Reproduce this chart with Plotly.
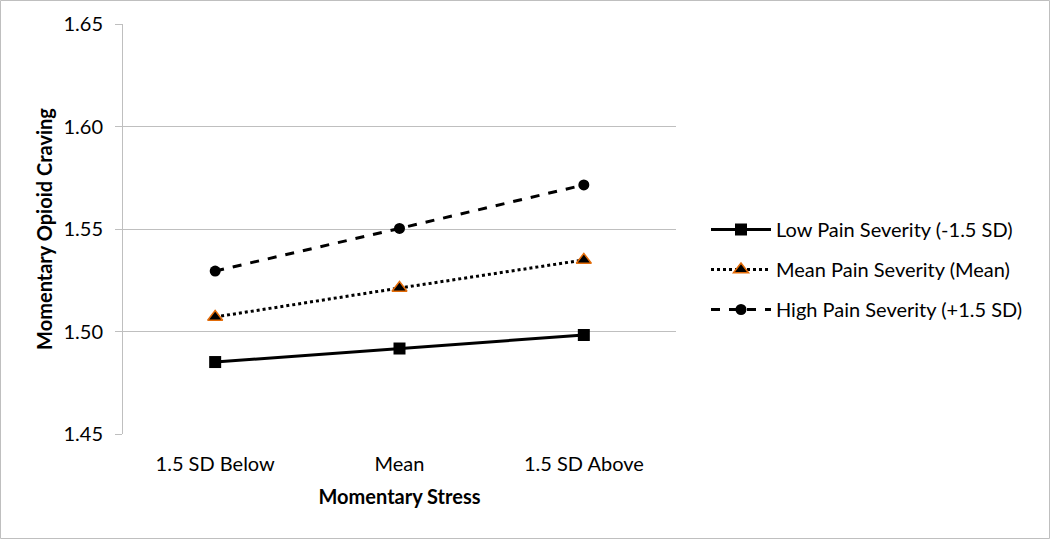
import plotly.graph_objects as go

categories = ["1.5 SD Below", "Mean", "1.5 SD Above"]
low_pain = [1.4851, 1.4917, 1.4983]
mean_pain = [1.5071, 1.5212, 1.5349]
high_pain = [1.5295, 1.5503, 1.5715]
series_names = ["Low Pain Severity (-1.5 SD)", "Mean Pain Severity (Mean)", "High Pain Severity (+1.5 SD)"]
y_ticks = [1.45, 1.50, 1.55, 1.60, 1.65]
y_tick_labels = ["1.45", "1.50", "1.55", "1.60", "1.65"]

FONT = "Lato, 'Open Sans', sans-serif"
fig = go.Figure()
fig.add_trace(go.Scatter(x=categories, y=low_pain, name=series_names[0], mode="lines+markers",
                         line=dict(color="black", width=3, dash="solid"),
                         marker=dict(symbol="square", size=12, color="black"), legendgroup="a"))
fig.add_trace(go.Scatter(x=categories, y=mean_pain, name=series_names[1], mode="lines+markers",
                         line=dict(color="black", width=3, dash="dot"),
                         marker=dict(symbol="triangle-up", size=13, color="black",
                                     line=dict(color="#E36C09", width=1.5)), legendgroup="b"))
fig.add_trace(go.Scatter(x=categories, y=high_pain, name=series_names[2], mode="lines+markers",
                         line=dict(color="black", width=3, dash="dash"),
                         marker=dict(symbol="circle", size=11, color="black"), legendgroup="c"))

W, H = 1050, 539
l, r, t, b = 123, 374, 24, 105
pw, ph = W - l - r, H - t - b
fig.update_layout(
    width=W, height=H,
    margin=dict(l=l, r=r, t=t, b=b),
    paper_bgcolor="white", plot_bgcolor="white",
    font=dict(family=FONT, size=20, color="black"),
    showlegend=True,
    legend=dict(x=(706 - l) / pw, y=(434 - 229 + 19) / ph, xanchor="left", yanchor="top",
                font=dict(size=20), tracegroupgap=11, bgcolor="rgba(0,0,0,0)", itemwidth=60),
    xaxis=dict(type="category", range=[-0.5, 2.5], showgrid=False, showline=False, ticks="",
               title=dict(text="<b>Momentary Stress</b>", font=dict(size=20), standoff=15),
               ticklabelstandoff=16),
    yaxis=dict(range=[1.45, 1.65], tickvals=y_ticks, ticktext=y_tick_labels,
               showgrid=True, gridcolor="#BFBFBF", gridwidth=1,
               showline=True, linecolor="#BFBFBF", linewidth=1,
               ticks="outside", ticklen=7, tickcolor="#BFBFBF",
               ticklabelstandoff=8, zeroline=False,
               title=dict(text="<b>Momentary Opioid Craving</b>", font=dict(size=20), standoff=5)),
    shapes=[dict(type="rect", xref="paper", yref="paper",
                 x0=(0.5 - l) / pw, x1=(W - 0.5 - l) / pw,
                 y0=-(b - 0.5) / ph, y1=(H - b - 0.5) / ph,
                 line=dict(color="#BFBFBF", width=1), layer="below")],
)
fig.write_html("out.html", config={"displayModeBar": False},
               post_script="document.body.style.margin='0';document.body.style.overflow='hidden';")
